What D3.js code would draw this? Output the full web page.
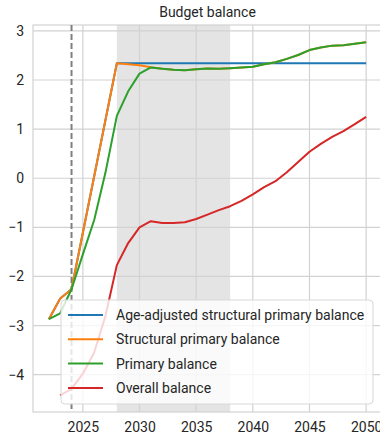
<!DOCTYPE html>
<html><head><meta charset="utf-8">
<script src="https://cdn.jsdelivr.net/npm/d3@7"></script>
<style>
html,body{margin:0;padding:0;background:#fff;}
svg{display:block;font-family:Roboto, "Noto Sans", sans-serif;}
</style></head>
<body><svg id="c" width="380" height="442"></svg>
<script>
const years = d3.range(2022, 2051);
const ageAdjusted = [-2.87,-2.45,-2.26,-1.11,0.04,1.19,2.34,2.34,2.34,2.34,2.34,2.34,2.34,2.34,2.34,2.34,2.34,2.34,2.34,2.34,2.34,2.34,2.34,2.34,2.34,2.34,2.34,2.34,2.34];
const structural = [-2.87,-2.45,-2.26,-1.11,0.04,1.19,2.34,2.32,2.30,2.26,2.23,2.21,2.20,2.22,2.235,2.23,2.24,2.255,2.27,2.32,2.36,2.43,2.51,2.61,2.66,2.70,2.71,2.74,2.77];
const primary = [-2.87,-2.75,-2.26,-1.55,-0.85,0.12,1.27,1.77,2.13,2.255,2.23,2.21,2.20,2.22,2.235,2.23,2.24,2.255,2.27,2.32,2.36,2.43,2.51,2.61,2.66,2.70,2.71,2.74,2.77];
const overallYears = d3.range(2023, 2051);
const overall = [-4.42,-4.29,-3.98,-3.55,-2.80,-1.77,-1.32,-1.0,-0.875,-0.91,-0.91,-0.895,-0.83,-0.74,-0.65,-0.57,-0.46,-0.33,-0.18,-0.06,0.12,0.33,0.54,0.70,0.84,0.96,1.10,1.25];
const seriesNames = ["Age-adjusted structural primary balance","Structural primary balance","Primary balance","Overall balance"];
const colors = ["#1f77b4","#ff7f0e","#2ca02c","#d62728"];
const xTicks = [2025,2030,2035,2040,2045,2050];
const yTicks = [-4,-3,-2,-1,0,1,2,3];
const spanRange = [2028, 2038];
const markerYear = 2024;
const title = "Budget balance";

const svg = d3.select("#c");
const L = 33, R = 382, T = 25, B = 412;
const x = d3.scaleLinear().domain([2020.6, 2051.4]).range([L, R]);
const y = d3.scaleLinear().domain([-4.76, 3.12]).range([B, T]);

svg.append("rect").attr("x", L).attr("y", T).attr("width", R-L).attr("height", B-T).attr("fill", "#fff");
// shaded span
svg.append("rect").attr("x", x(spanRange[0])).attr("y", T).attr("width", x(spanRange[1])-x(spanRange[0])).attr("height", B-T).attr("fill", "#e4e4e4");

// grid
const grid = svg.append("g").attr("stroke", "#d2d2d2").attr("stroke-width", 1.2);
xTicks.forEach(t => grid.append("line").attr("x1", x(t)).attr("x2", x(t)).attr("y1", T).attr("y2", B));
yTicks.forEach(t => grid.append("line").attr("x1", L).attr("x2", R).attr("y1", y(t)).attr("y2", y(t)));
// spines
svg.append("rect").attr("x", L).attr("y", T).attr("width", R-L).attr("height", B-T).attr("fill", "none").attr("stroke", "#d2d2d2").attr("stroke-width", 1.2);

// axes labels via d3 axes
const fmt = d => d < 0 ? "\u2212" + Math.abs(d) : String(d);
const xa = svg.append("g").attr("transform", `translate(0,${B})`).call(d3.axisBottom(x).tickValues(xTicks).tickSize(0).tickPadding(10).tickFormat(d3.format("d")));
const ya = svg.append("g").attr("transform", `translate(${L},0)`).call(d3.axisLeft(y).tickValues(yTicks).tickSize(0).tickPadding(9).tickFormat(fmt));
[xa, ya].forEach(a => {
  a.select(".domain").remove();
  a.selectAll("text").attr("font-size", 14).attr("fill", "#262626").attr("font-family", "Roboto, sans-serif");
});

// dashed marker line
svg.append("line").attr("x1", x(markerYear)).attr("x2", x(markerYear)).attr("y1", T).attr("y2", B)
  .attr("stroke", "#808080").attr("stroke-width", 2).attr("stroke-dasharray", "6,3");

const line = d3.line().x(d => x(d[0])).y(d => y(d[1]));
const data = [
  years.map((yr,i) => [yr, ageAdjusted[i]]),
  years.map((yr,i) => [yr, structural[i]]),
  years.map((yr,i) => [yr, primary[i]]),
  overallYears.map((yr,i) => [yr, overall[i]])
];
const clip = svg.append("clipPath").attr("id","pc").append("rect").attr("x", L).attr("y", T).attr("width", R-L).attr("height", B-T);
const lines = svg.append("g").attr("clip-path", "url(#pc)");
data.forEach((d,i) => lines.append("path").attr("d", line(d)).attr("fill","none").attr("stroke", colors[i]).attr("stroke-width", 2).attr("stroke-linejoin","round"));

// title
svg.append("text").attr("x", (L+R)/2).attr("y", 17).attr("text-anchor","middle").attr("font-size", 14).attr("fill","#262626").text(title);

// legend
const lg = svg.append("g");
lg.append("rect").attr("x", 61).attr("y", 300).attr("width", 312).attr("height", 104).attr("rx", 4)
  .attr("fill", "#fff").attr("fill-opacity", 0.8).attr("stroke", "#d8d8d8").attr("stroke-width", 1);
seriesNames.forEach((n,i) => {
  const yy = 315 + i*24.3;
  lg.append("line").attr("x1", 68).attr("x2", 103).attr("y1", yy).attr("y2", yy).attr("stroke", colors[i]).attr("stroke-width", 2);
  lg.append("text").attr("x", 116).attr("y", yy).attr("dy", "0.35em").attr("font-size", 14).attr("fill", "#262626").text(n);
});
</script></body></html>
